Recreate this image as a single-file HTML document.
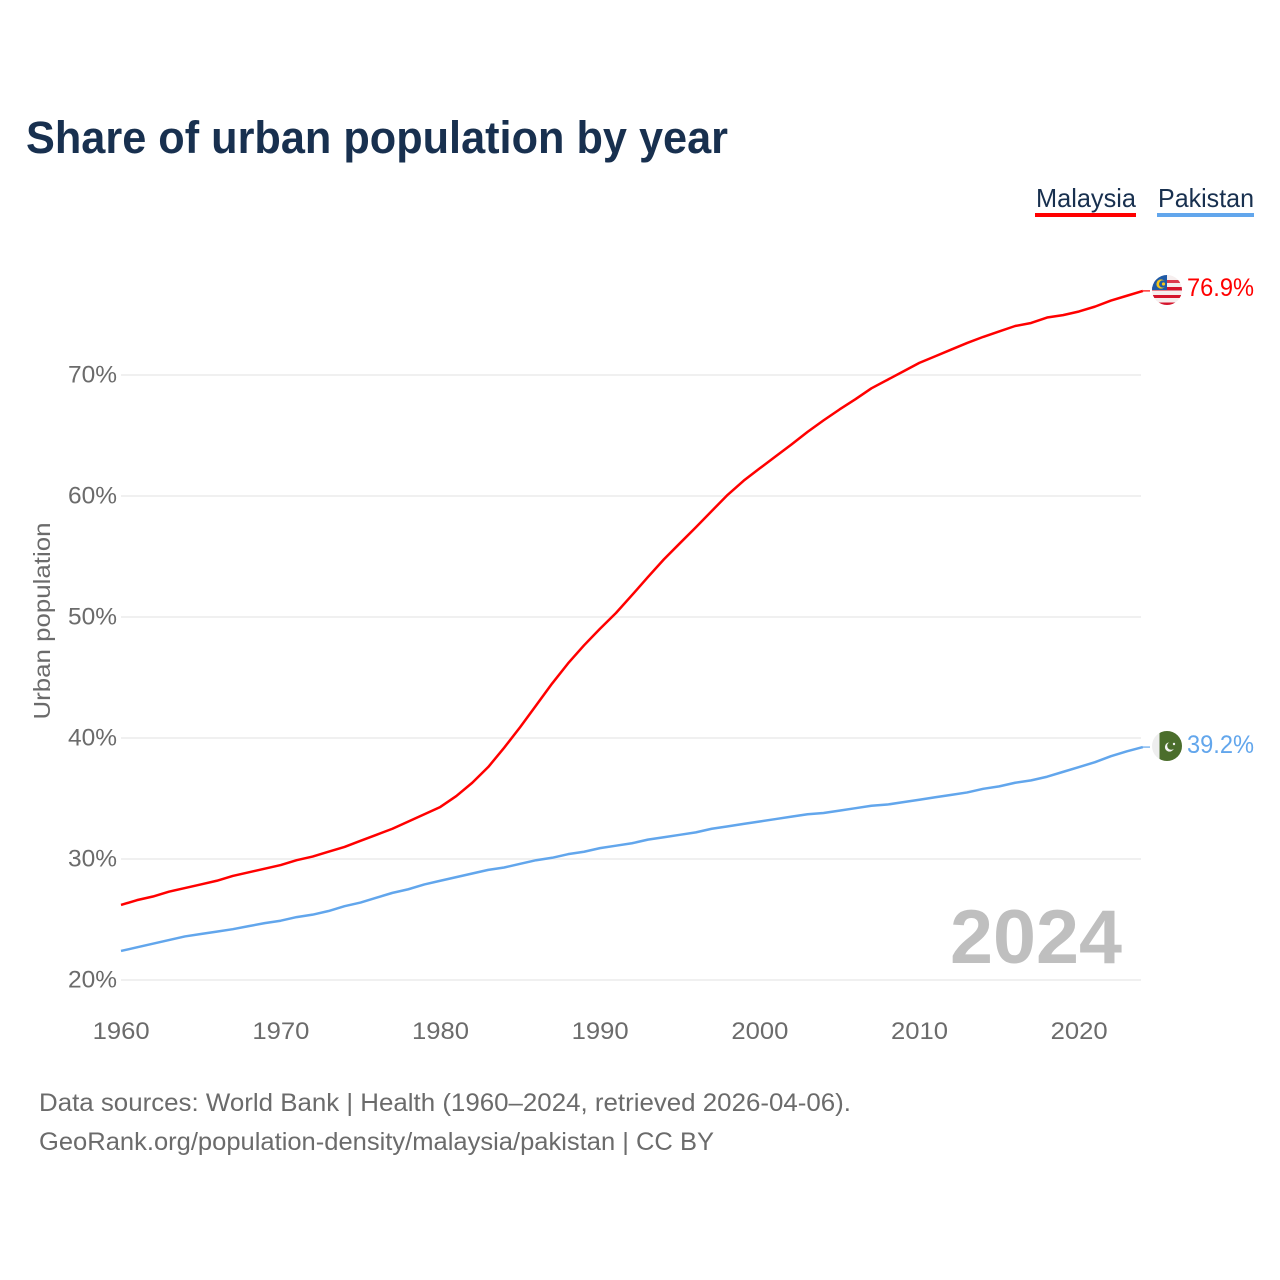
<!DOCTYPE html>
<html lang="en">
<head>
<meta charset="utf-8">
<title>Share of urban population by year</title>
<style>
  html, body { margin: 0; padding: 0; background: #fff; }
  svg { display: block; font-family: "Liberation Sans", sans-serif; }
</style>
</head>
<body>
<svg id="chart" width="1280" height="1280" viewBox="0 0 1280 1280">
  <defs>
    <clipPath id="flag-my-clip"><circle cx="1167" cy="290" r="15"/></clipPath>
    <clipPath id="flag-pk-clip"><circle cx="1167" cy="746" r="15"/></clipPath>
  </defs>
  <rect width="1280" height="1280" fill="#fff"/>
  <text x="26" y="153" font-size="45" font-weight="700" fill="#18304f" textLength="702" lengthAdjust="spacingAndGlyphs">Share of urban population by year</text>

  <g>
    <text x="1036" y="207" font-size="26" fill="#18304f" textLength="100" lengthAdjust="spacingAndGlyphs">Malaysia</text>
    <rect x="1035" y="213" width="101" height="4" fill="#ff0000"/>
  </g>
  <g>
    <text x="1158" y="207" font-size="26" fill="#18304f" textLength="96" lengthAdjust="spacingAndGlyphs">Pakistan</text>
    <rect x="1157" y="213" width="97" height="4" fill="#62a6ec"/>
  </g>

  <text transform="translate(50,621) rotate(-90)" text-anchor="middle" font-size="23" fill="#6b6b6b" textLength="197" lengthAdjust="spacingAndGlyphs">Urban population</text>

  <g id="grid"></g>
  <g id="xticks"></g>

  <text x="1122" y="963" text-anchor="end" font-size="76" font-weight="700" fill="#bfbfbf" textLength="172" lengthAdjust="spacingAndGlyphs">2024</text>

  <g id="series"></g>

  <g clip-path="url(#flag-my-clip)">
    <rect x="1152" y="275" width="30" height="31" fill="#f6eeee"/>
    <rect x="1152" y="280" width="30" height="3" fill="#dc3a4e"/>
    <rect x="1152" y="287" width="30" height="3.5" fill="#d5142c"/>
    <rect x="1152" y="295" width="30" height="3" fill="#d5142c"/>
    <rect x="1152" y="302.5" width="30" height="3" fill="#d5142c"/>
    <rect x="1152" y="275" width="15" height="15" fill="#1f5aa6"/>
    <circle cx="1161" cy="284" r="4.6" fill="#f5c518"/>
    <circle cx="1162.6" cy="284" r="3.6" fill="#1f5aa6"/>
    <circle cx="1163.5" cy="284" r="1.6" fill="#f5c518"/>
  </g>
  <g clip-path="url(#flag-pk-clip)">
    <rect x="1152" y="731" width="30" height="30" fill="#eeeeee"/>
    <rect x="1159.5" y="731" width="22.5" height="30" fill="#4b6e2c"/>
    <circle cx="1169.5" cy="747" r="4.6" fill="#f4f4f4"/>
    <circle cx="1171.2" cy="745.8" r="4" fill="#4b6e2c"/>
    <circle cx="1174" cy="744" r="1.2" fill="#f4f4f4"/>
  </g>

  <text x="1187" y="296" font-size="25" fill="#ff0000" textLength="67" lengthAdjust="spacingAndGlyphs">76.9%</text>
  <text x="1187" y="753" font-size="25" fill="#62a6ec" textLength="67" lengthAdjust="spacingAndGlyphs">39.2%</text>

  <text x="39" y="1111" font-size="25" fill="#6b6b6b" textLength="812" lengthAdjust="spacingAndGlyphs">Data sources: World Bank | Health (1960–2024, retrieved 2026-04-06).</text>
  <text x="39" y="1150" font-size="25" fill="#6b6b6b" textLength="675" lengthAdjust="spacingAndGlyphs">GeoRank.org/population-density/malaysia/pakistan | CC BY</text>
</svg>
<script>
const startYear = 1960;
const yTickValues = [20, 30, 40, 50, 60, 70];
const xTickYears = [1960, 1970, 1980, 1990, 2000, 2010, 2020];
const malaysiaValues = [26.2,26.6,26.9,27.3,27.6,27.9,28.2,28.6,28.9,29.2,29.5,29.9,30.2,30.6,31.0,31.5,32.0,32.5,33.1,33.7,34.3,35.2,36.3,37.6,39.2,40.9,42.7,44.5,46.17,47.66,49.03,50.33,51.8,53.3,54.76,56.09,57.41,58.76,60.1,61.27,62.28,63.27,64.27,65.3,66.25,67.15,68.0,68.9,69.6,70.3,71.0,71.55,72.1,72.65,73.15,73.6,74.05,74.3,74.75,74.95,75.25,75.65,76.15,76.55,76.95];
const pakistanValues = [22.4,22.7,23.0,23.3,23.6,23.8,24.0,24.2,24.45,24.7,24.9,25.2,25.4,25.7,26.1,26.4,26.8,27.2,27.5,27.9,28.2,28.5,28.8,29.1,29.3,29.6,29.9,30.1,30.4,30.6,30.9,31.1,31.3,31.6,31.8,32.0,32.2,32.5,32.7,32.9,33.1,33.3,33.5,33.7,33.8,34.0,34.2,34.4,34.5,34.7,34.9,35.1,35.3,35.5,35.8,36.0,36.3,36.5,36.8,37.2,37.6,38.0,38.5,38.9,39.25];

const NS = 'http://www.w3.org/2000/svg';
function xScale(year) { return 121 + (year - 1960) * (958 / 60); }
function yScale(v) { return 980 - (v - 20) * 12.1; }
function make(tag, attrs, parent) {
  const el = document.createElementNS(NS, tag);
  for (const k in attrs) el.setAttribute(k, attrs[k]);
  parent.appendChild(el);
  return el;
}

const grid = document.getElementById('grid');
yTickValues.forEach(function (v) {
  const line = make('line', { x1: 121, x2: 1141, y1: yScale(v), y2: yScale(v), stroke: '#ececec', 'stroke-width': 1.5 }, grid);
  
  
  const label = make('text', { x: 117, y: yScale(v) + 7.5, 'text-anchor': 'end', 'font-size': 24, fill: '#6b6b6b', textLength: 49, lengthAdjust: 'spacingAndGlyphs' }, grid);
  label.textContent = v + '%';
  
  
});

const xticks = document.getElementById('xticks');
xTickYears.forEach(function (yr) {
  const label = make('text', { x: xScale(yr) + 0.2, y: 1039, 'text-anchor': 'middle', 'font-size': 24, fill: '#6b6b6b', textLength: 57, lengthAdjust: 'spacingAndGlyphs' }, xticks);
  label.textContent = String(yr);
  
  
});

const seriesGroup = document.getElementById('series');
function drawSeries(values, color, name) {
  let d = '';
  values.forEach(function (v, i) {
    d += (i ? 'L' : 'M') + xScale(startYear + i).toFixed(2) + ' ' + yScale(v).toFixed(2);
  });
  const path = make('path', { d: d, fill: 'none', stroke: color, 'stroke-width': 2.5, 'stroke-linejoin': 'round' }, seriesGroup);
  
  
  const lastIndex = values.length - 1;
  const stub = make('line', { x1: xScale(startYear + lastIndex), x2: 1150, y1: yScale(values[lastIndex]), y2: yScale(values[lastIndex]), stroke: color, 'stroke-width': 1.2 }, seriesGroup);
  
  
}
drawSeries(malaysiaValues, '#ff0000', 'malaysia-line');
drawSeries(pakistanValues, '#62a6ec', 'pakistan-line');
</script>
</body>
</html>
